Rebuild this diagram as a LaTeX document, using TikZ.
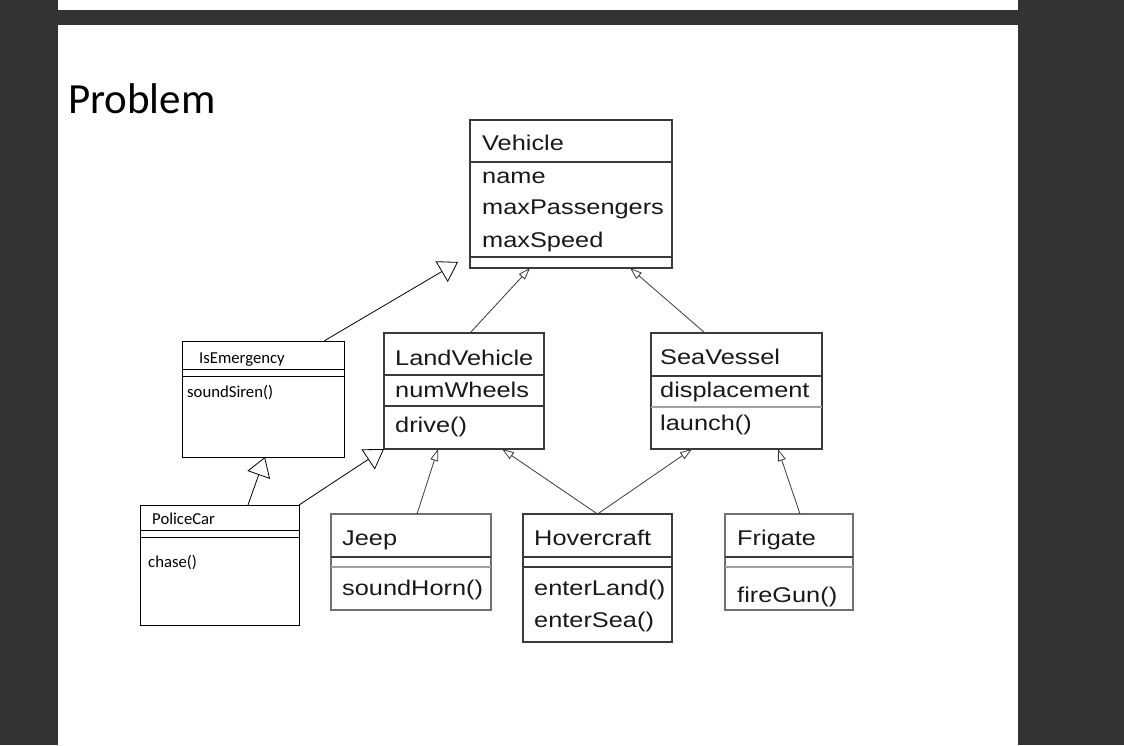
\documentclass[tikz,border=0pt]{standalone}
\usepackage{fontspec}
\usepackage{xcolor}
\usepackage{tikz}
\usetikzlibrary{arrows.meta}

\newfontfamily\umlfont[FakeStretch=1.19]{Liberation Sans}
\newfontfamily\calfont{Carlito}

\definecolor{screenbg}{HTML}{333333}
\definecolor{boxline}{HTML}{3A3A3A}
\definecolor{softline}{HTML}{707070}
\definecolor{sepline}{HTML}{A0A0A0}

\tikzset{
    classbox/.style={rectangle, draw=boxline, line width=1.2pt, anchor=north west, inner sep=0pt, outer sep=0pt},
    softbox/.style={classbox, draw=softline},
    ifacebox/.style={rectangle, draw=black, line width=1pt, anchor=north west, inner sep=0pt, outer sep=0pt},
    umltext/.style={anchor=base west, inner sep=0pt, font=\umlfont\fontsize{21.3}{26}\selectfont, text=black!90},
    caltext/.style={anchor=base west, inner sep=0pt, font=\calfont\fontsize{16.7}{20}\selectfont, text=black},
    gen/.style={draw=boxline, line width=0.8pt, -{Triangle[open, length=12pt, width=8pt]}},
    biggen/.style={draw=black, line width=0.8pt, -{Triangle[open, length=19pt, width=24pt]}}
}

\begin{document}
\begin{tikzpicture}[x=1pt, y=-1pt]
    % screen and page
    \fill[screenbg] (0,0) rectangle (1124,745);
    \fill[white] (58,0) rectangle (1018,10);
    \fill[white] (58,25) rectangle (1018,745);
    \node[anchor=base west, inner sep=0pt, font=\calfont\fontsize{43}{50}\selectfont] (title) at (68,113) {Problem};

    % Vehicle
    \node[classbox, minimum width=202pt, minimum height=148pt] (vehicle) at (470,120) {};
    \draw[boxline, line width=1.2pt] ([yshift=-42pt]vehicle.north west) -- ([yshift=-42pt]vehicle.north east);
    \draw[boxline, line width=1.2pt] ([yshift=-137pt]vehicle.north west) -- ([yshift=-137pt]vehicle.north east);
    \node[umltext] (vehTitle) at (482,150) {Vehicle};
    \node[umltext] (vehName) at (482,183) {name};
    \node[umltext] (vehPass) at (482,214) {maxPassengers};
    \node[umltext] (vehSpeed) at (482,247) {maxSpeed};

    % LandVehicle
    \node[classbox, minimum width=160pt, minimum height=116pt] (landveh) at (384,333) {};
    \draw[boxline, line width=1.2pt] ([yshift=-42pt]landveh.north west) -- ([yshift=-42pt]landveh.north east);
    \draw[boxline, line width=1.2pt] ([yshift=-73pt]landveh.north west) -- ([yshift=-73pt]landveh.north east);
    \node[umltext] (landTitle) at (395,365) {LandVehicle};
    \node[umltext] (landWheels) at (395,397) {numWheels};
    \node[umltext] (landDrive) at (395,432) {drive()};

    % SeaVessel
    \node[classbox, minimum width=171pt, minimum height=116pt] (seavessel) at (651,333) {};
    \draw[boxline, line width=1.2pt] ([yshift=-43pt]seavessel.north west) -- ([yshift=-43pt]seavessel.north east);
    \draw[sepline, line width=1.2pt] ([yshift=-74pt]seavessel.north west) -- ([yshift=-74pt]seavessel.north east);
    \node[umltext] (seaTitle) at (660,364) {SeaVessel};
    \node[umltext] (seaDisp) at (660,397) {displacement};
    \node[umltext] (seaLaunch) at (660,430) {launch()};

    % IsEmergency
    \node[ifacebox, minimum width=162pt, minimum height=116pt] (isemerg) at (182,341) {};
    \draw[black, line width=1pt] ([yshift=-28pt]isemerg.north west) -- ([yshift=-28pt]isemerg.north east);
    \draw[black, line width=1pt] ([yshift=-35pt]isemerg.north west) -- ([yshift=-35pt]isemerg.north east);
    \node[caltext] (emergTitle) at (199,363) {IsEmergency};
    \node[caltext] (emergSiren) at (187,397) {soundSiren()};

    % PoliceCar
    \node[ifacebox, minimum width=159pt, minimum height=120pt] (policecar) at (140,505) {};
    \draw[black, line width=1pt] ([yshift=-25pt]policecar.north west) -- ([yshift=-25pt]policecar.north east);
    \draw[black, line width=1pt] ([yshift=-32pt]policecar.north west) -- ([yshift=-32pt]policecar.north east);
    \node[caltext] (policeTitle) at (152,524) {PoliceCar};
    \node[caltext] (policeChase) at (148,567) {chase()};

    % Jeep
    \node[softbox, minimum width=160pt, minimum height=96pt] (jeep) at (331,514) {};
    \draw[boxline, line width=1.2pt] ([yshift=-43pt]jeep.north west) -- ([yshift=-43pt]jeep.north east);
    \draw[sepline, line width=1.2pt] ([yshift=-53pt]jeep.north west) -- ([yshift=-53pt]jeep.north east);
    \node[umltext] (jeepTitle) at (342,545) {Jeep};
    \node[umltext] (jeepHorn) at (342,595) {soundHorn()};

    % Hovercraft
    \node[classbox, minimum width=149pt, minimum height=128pt] (hovercraft) at (523,514) {};
    \draw[boxline, line width=1.2pt] ([yshift=-43pt]hovercraft.north west) -- ([yshift=-43pt]hovercraft.north east);
    \draw[boxline, line width=1.2pt] ([yshift=-53pt]hovercraft.north west) -- ([yshift=-53pt]hovercraft.north east);
    \node[umltext] (hoverTitle) at (534,545) {Hovercraft};
    \node[umltext] (hoverLand) at (534,595) {enterLand()};
    \node[umltext] (hoverSea) at (534,627) {enterSea()};

    % Frigate
    \node[softbox, minimum width=128pt, minimum height=96pt] (frigate) at (725,514) {};
    \draw[boxline, line width=1.2pt] ([yshift=-43pt]frigate.north west) -- ([yshift=-43pt]frigate.north east);
    \draw[sepline, line width=1.2pt] ([yshift=-53pt]frigate.north west) -- ([yshift=-53pt]frigate.north east);
    \node[umltext] (frigTitle) at (737,545) {Frigate};
    \node[umltext] (frigGun) at (737,602) {fireGun()};

    % generalisations
    \draw[gen] ([xshift=6pt]landveh.north) -- ([xshift=-41pt]vehicle.south);
    \draw[gen] ([xshift=-31.5pt]seavessel.north) -- ([xshift=59pt]vehicle.south);
    \draw[gen] ([xshift=6pt]jeep.north) -- ([xshift=-26pt]landveh.south);
    \draw[gen] (hovercraft.north) -- ([xshift=38pt]landveh.south);
    \draw[gen] (hovercraft.north) -- ([xshift=-44.5pt]seavessel.south);
    \draw[gen] ([xshift=11pt]frigate.north) -- ([xshift=41.5pt]seavessel.south);
    \draw[biggen] ([xshift=61pt]isemerg.north) -- ([xshift=-12pt, yshift=6pt]vehicle.south west);
    \draw[biggen] ([xshift=28.5pt]policecar.north) -- ([xshift=2pt]isemerg.south);
    \draw[biggen] (policecar.north east) -- (landveh.south west);
\end{tikzpicture}
\end{document}
